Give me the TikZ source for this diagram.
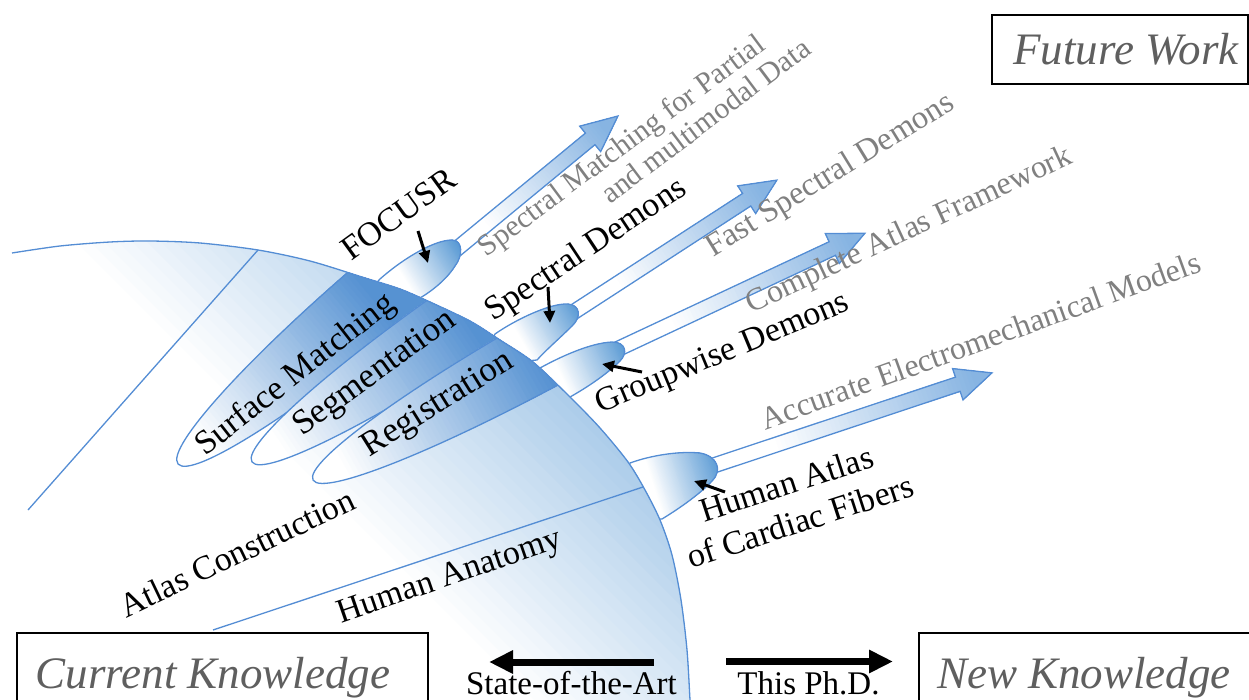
\documentclass[tikz,border=0pt]{standalone}
\usepackage{fontspec}
\setmainfont{Liberation Serif}
\usetikzlibrary{arrows.meta}

\definecolor{lineblue}{RGB}{84,141,212}
\definecolor{fillblue}{RGB}{91,155,213}
\definecolor{bandblue}{RGB}{86,146,210}
\definecolor{arrowblue}{RGB}{135,180,226}
\definecolor{futgray}{RGB}{128,128,128}
\definecolor{kngray}{RGB}{95,95,95}

% colour ramp: #1 origin, #2 direction (deg), #3 ramp start, #4 ramp end, #5 first colour, #6 last colour
\newcommand\ramp[6]{%
  \begin{scope}[shift={#1}, rotate=#2]
    \fill[#5] (-1500,-1500) rectangle (1500,1500);
    \foreach \k in {1,...,48}{%
      \pgfmathsetmacro\rx{(#3)+((#4)-(#3))*(\k/48)}%
      \pgfmathtruncatemacro\rp{round(100*\k/48)}%
      \fill[#6!\rp!#5] (\rx,-1500) rectangle (1500,1500);
    }%
  \end{scope}}

% arrow towards future work: #1 base point, #2 direction, #3 length
\newcommand\futarrow[3]{%
  \begin{scope}[shift={#1}, rotate=#2]
    \begin{scope}
      \clip (0,-7.5) -- ({#3-36},-7.5) -- ({#3-36},-16.5) -- (#3,0) -- ({#3-36},16.5) -- ({#3-36},7.5) -- (0,7.5) -- cycle;
      \ramp{(0,0)}{0}{0.25*#3}{#3-20}{white}{arrowblue}
    \end{scope}
    \draw[outline] (0,-7.5) -- ({#3-36},-7.5) -- ({#3-36},-16.5) -- (#3,0) -- ({#3-36},16.5) -- ({#3-36},7.5) -- (0,7.5) -- cycle;
  \end{scope}}

% bulge beyond the rim: #1 path, #2 ramp origin, #3 direction, #4 ramp length
\newcommand\bump[4]{%
  \begin{scope}
    \clip #1;
    \ramp{#2}{#3}{8}{#4}{white}{fillblue}
  \end{scope}
  \draw[outline] #1;}

% elongated ellipse inside the disc: #1 centre, #2 direction, #3 half length, #4 half width, #5 tip
\newcommand\band[5]{%
  \begin{scope}
    \clip[rotate around={#2:#1}] #1 ellipse [x radius=#3pt, y radius=#4pt];
    \ramp{#5}{#2}{30}{255}{white}{bandblue}
  \end{scope}
  \draw[outline, rotate around={#2:#1}] #1 ellipse [x radius=#3pt, y radius=#4pt];}

\tikzset{
  outline/.style={draw=lineblue, line width=1.3pt},
  lbl/.style={anchor=base, inner sep=0pt, font=\fontsize{34}{40}\selectfont},
  fut/.style={anchor=base, inner sep=0pt, text=futgray, font=\fontsize{32}{38}\selectfont},
  kbox/.style={draw=black, line width=1.1pt, inner sep=0pt, outer sep=0pt, anchor=north west},
  kntext/.style={anchor=base, inner sep=0pt, text=kngray, font=\itshape\fontsize{45}{52}\selectfont},
  btext/.style={anchor=base, inner sep=0pt, font=\fontsize{33}{38}\selectfont},
  pointer/.style={line width=3pt, -{Triangle[length=12pt,width=11pt]}},
  bigarrow/.style={line width=7pt, -{Triangle[length=24pt,width=22pt]}},
  rimcurve/.style={insert path={plot[smooth] coordinates {(12,253) (60,246) (110,242) (150,241) (200,243) (258,250) (310,261) (362,277) (400,289) (430,302) (470,321) (500,340) (533,362) (570,397) (600,428) (628,462) (645,490) (660,520) (672,555) (681,600) (687,650) (690,700) (691,712)}}},
}

\begin{document}
\begin{tikzpicture}[x=1pt, y=-1pt]
\useasboundingbox (0,0) rectangle (1249,700);
\clip (0,0) rectangle (1249,700);

% arrows towards future work
\futarrow{(440.5,262.3)}{39.5}{230}
\futarrow{(563,319)}{33}{255}
\futarrow{(605,355)}{25.1}{287}
\futarrow{(700,470)}{18.4}{307.7}

% contributions pushing the rim outwards
\bump{(380,279) .. controls (405,257) and (435,240) .. (452,240) .. controls (463,240) and (463,256) .. (455,266) .. controls (447,279) and (432,291) .. (420,298) -- (395,305) -- (370,290) -- cycle}{(400,288)}{32}{72}
\bump{(495,334) .. controls (515,320) and (550,303) .. (568,304) .. controls (581,305) and (581,318) .. (572,326) .. controls (561,337) and (546,350) .. (537,360) -- (515,362) -- (490,345) -- cycle}{(516,348)}{30}{72}
\bump{(540,368) .. controls (560,357) and (590,343) .. (612,342) .. controls (626,342) and (628,353) .. (620,361) .. controls (606,375) and (586,388) .. (570,397) -- (555,400) -- (535,380) -- cycle}{(555,383)}{25}{77}
\bump{(630,463) .. controls (652,455) and (680,451) .. (700,453) .. controls (717,456) and (723,470) .. (712,481) .. controls (700,494) and (680,508) .. (662,519) -- (645,520) -- (625,475) -- cycle}{(646,491)}{17.5}{77}

% body of knowledge
\begin{scope}
  \clip[rimcurve] -- (-20,712) -- (-20,253) -- cycle;
  \ramp{(300,480)}{45}{0}{481}{white}{fillblue}
  \band{(400.2,277.6)}{40}{290}{38}{(178,464)}
  \band{(500.7,294.2)}{34}{300}{37}{(252,462)}
  \band{(575.4,334.6)}{29}{300}{36}{(313,480)}
\end{scope}
\draw[outline, rimcurve];

\coordinate (atl0) at (258,250);
\coordinate (atl1) at (28,510);
\coordinate (han0) at (213,630);
\coordinate (han1) at (643,487);
\draw[outline] (atl0) -- (atl1);
\draw[outline] (han0) -- (han1);

% labels inside the disc
\node[lbl, rotate=38] (sm) at (301,382) {Surface Matching};
\node[lbl, rotate=36, font=\fontsize{35}{40}\selectfont] (seg) at (380,380.4) {Segmentation};
\node[lbl, rotate=32, font=\fontsize{35}{40}\selectfont] (reg) at (442.5,411.7) {Registration};
\node[lbl, rotate=25.6] (ac) at (242,563) {Atlas Construction};
\node[lbl, rotate=19] (ha) at (452.6,584.8) {Human Anatomy};

% contribution labels
\node[lbl, rotate=36] (focusr) at (405,223) {FOCUSR};
\node[lbl, rotate=33.5] (sd) at (591,257.5) {Spectral Demons};
\node[lbl, rotate=22.5] (gd) at (726,361.5) {Groupwise Demons};
\node[lbl, rotate=18] (hac1) at (790,494.5) {Human Atlas};
\node[lbl, rotate=18] (hac2) at (803.5,532) {of Cardiac Fibers};

% future work labels
\node[fut, rotate=36.6, font=\fontsize{30}{35}\selectfont] (fw1a) at (627,153) {Spectral Matching for Partial};
\node[fut, rotate=37, font=\fontsize{30}{35}\selectfont] (fw1b) at (711.5,128.5) {and multimodal Data};
\node[fut, rotate=31.5, font=\fontsize{32.5}{38}\selectfont] (fw2) at (834.6,182.5) {Fast Spectral Demons};
\node[fut, rotate=25] (fw3) at (913,238) {Complete Atlas Framework};
\node[fut, rotate=20] (fw4) at (984,350.5) {Accurate Electromechanical Models};

% pointers
\coordinate (fp0) at (418,231);
\coordinate (fp1) at (428,263);
\coordinate (sp0) at (548,287);
\coordinate (sp1) at (550,323);
\coordinate (gp0) at (642,372);
\coordinate (gp1) at (602,364);
\coordinate (hp0) at (725,492);
\coordinate (hp1) at (694,481);
\draw[pointer] (fp0) -- (fp1);
\draw[pointer] (sp0) -- (sp1);
\draw[pointer] (gp0) -- (gp1);
\draw[pointer] (hp0) -- (hp1);

% knowledge boxes
\node[kbox, minimum width=256pt, minimum height=69pt] (fwbox) at (992,15) {};
\node[kntext] (fwt) at (1126,65) {Future Work};
\node[kbox, minimum width=411pt, minimum height=90pt] (ckbox) at (17,633) {};
\node[kntext] (ckt) at (213,688) {Current Knowledge};
\node[kbox, minimum width=360pt, minimum height=90pt] (nkbox) at (919,633) {};
\node[kntext] (nkt) at (1084,688) {New Knowledge};

% direction arrows
\coordinate (sa0) at (654,662);
\coordinate (sa1) at (489,662);
\coordinate (ph0) at (726,661.5);
\coordinate (ph1) at (893,661.5);
\draw[bigarrow] (sa0) -- (sa1);
\draw[bigarrow] (ph0) -- (ph1);
\node[btext] (sota) at (571.5,694.5) {State-of-the-Art};
\node[btext] (phd) at (808.5,694.5) {This Ph.D.};
\end{tikzpicture}
\end{document}
